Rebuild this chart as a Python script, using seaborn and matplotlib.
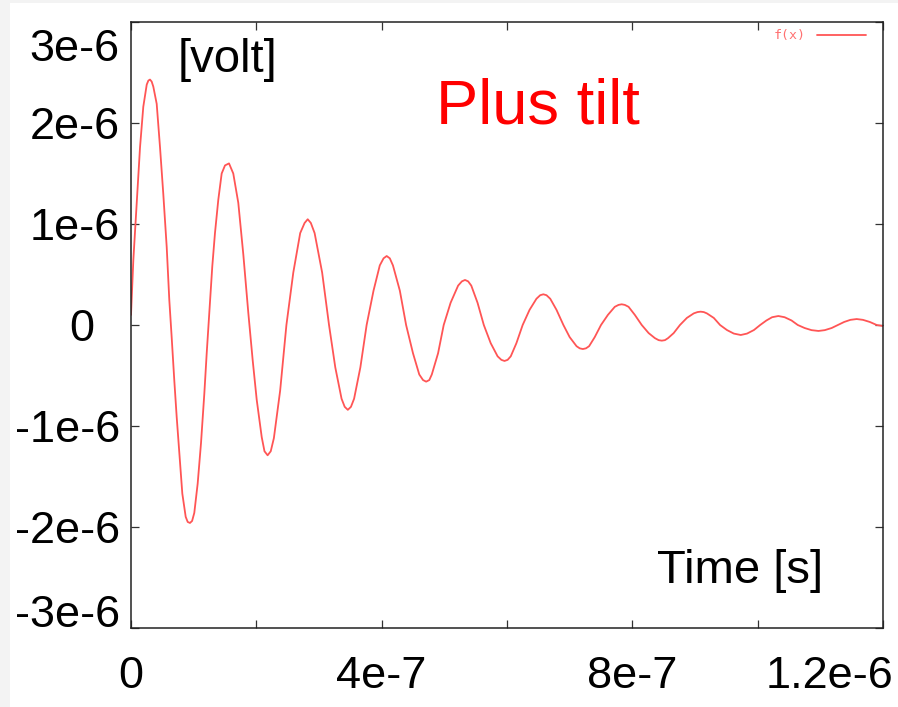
import numpy as np
import pandas as pd
import matplotlib.pyplot as plt
import seaborn as sns
from matplotlib.transforms import ScaledTranslation

# time in ns, signal in microvolt
t_ns = [0, 3.7, 9.1, 14.4, 19.6, 25.1, 27.7, 30.3, 33.0, 35.6, 41.0, 46.3, 51.5, 57.0, 61.1,
        64.9, 69.1, 72.9, 77.1, 81.9, 87.3, 90.5, 94.1, 97.5, 101.0, 106.4, 111.7, 117.0,
        120.8, 124.9, 129.7, 134.0, 139.3, 144.7, 150.0, 156.4, 163.2, 171.2, 179.2, 187.2,
        194.2, 200.6, 208.6, 213, 218, 223, 228, 238, 248, 259, 270, 277, 282, 287, 293,
        305, 316, 326, 336, 341, 346, 351, 356, 366, 376, 387, 397, 403, 408, 413, 418, 429,
        439, 450, 460, 466, 471, 476, 480, 490, 499, 510, 522, 528, 533, 538, 543, 553, 563,
        574, 585, 591, 596, 601, 606, 615, 625, 636, 647, 653, 658, 663, 669, 679, 690, 700,
        711, 716, 721, 726, 731, 740, 750, 761, 772, 778, 783, 788, 794, 804, 815, 826, 836,
        842, 847, 852, 857, 866, 876, 887, 898, 904, 909, 914, 919, 930, 940, 951, 962, 973,
        983, 994, 1004, 1014, 1023, 1033, 1043, 1054, 1064, 1075, 1086, 1097, 1107, 1118,
        1128, 1138, 1148, 1158, 1168, 1179, 1190, 1200]
v_uv = [0.10, 0.64, 1.21, 1.76, 2.16, 2.38, 2.42, 2.43, 2.41, 2.36, 2.19, 1.76, 1.30, 0.77, 0.25,
        -0.12, -0.55, -0.91, -1.27, -1.67, -1.90, -1.95, -1.96, -1.94, -1.86, -1.57, -1.17,
        -0.68, -0.28, 0.12, 0.58, 0.91, 1.24, 1.50, 1.58, 1.60, 1.50, 1.21, 0.70, 0.12,
        -0.35, -0.74, -1.11, -1.25, -1.29, -1.25, -1.12, -0.65, 0.0, 0.52, 0.91, 1.01, 1.047,
        1.01, 0.91, 0.52, 0.0, -0.42, -0.73, -0.81, -0.84, -0.81, -0.73, -0.42, 0.0, 0.34,
        0.59, 0.66, 0.683, 0.66, 0.59, 0.34, 0.0, -0.28, -0.49, -0.545, -0.561, -0.545, -0.49,
        -0.28, 0.0, 0.22, 0.39, 0.432, 0.446, 0.432, 0.39, 0.22, 0.0, -0.18, -0.31, -0.345,
        -0.356, -0.345, -0.31, -0.18, 0.0, 0.15, 0.26, 0.295, 0.304, 0.295, 0.26, 0.15, 0.0,
        -0.12, -0.21, -0.231, -0.238, -0.231, -0.21, -0.12, 0.0, 0.10, 0.18, 0.199, 0.205,
        0.199, 0.18, 0.10, 0.0, -0.08, -0.13, -0.15, -0.155, -0.15, -0.13, -0.08, 0.0, 0.07,
        0.115, 0.128, 0.132, 0.128, 0.115, 0.07, 0.0, -0.05, -0.085, -0.099, -0.085, -0.05,
        0.0, 0.045, 0.077, 0.089, 0.077, 0.045, 0.0, -0.03, -0.051, -0.059, -0.051, -0.03,
        0.0, 0.03, 0.051, 0.059, 0.051, 0.03, 0.0, -0.01]

x_ticks = [0, 2e-7, 4e-7, 6e-7, 8e-7, 1.0e-6, 1.2e-6]
x_labels = ["0", "", "4e-7", "", "8e-7", "", "1.2e-6"]
y_ticks = [-3e-6, -2e-6, -1e-6, 0, 1e-6, 2e-6, 3e-6]
y_labels = ["-3e-6", "-2e-6", "-1e-6", "0  ", "1e-6", "2e-6", "3e-6"]

df = pd.DataFrame({"t": np.array(t_ns) * 1e-9, "v": np.array(v_uv) * 1e-6})

sns.set_style("ticks")
plt.rcParams["font.family"] = ["Liberation Sans", "DejaVu Sans"]
plt.rcParams["text.color"] = "black"

fig = plt.figure(figsize=(8.98, 7.07), dpi=100, facecolor="#f3f3f3")
# white panel (screenshot background)
fig.patches.append(plt.Rectangle((10 / 898, 0), 1, 1 - 3 / 707, transform=fig.transFigure,
                                 facecolor="white", edgecolor="none", zorder=-1))
ax = fig.add_axes([131 / 898, 1 - 628 / 707, 752 / 898, 606 / 707])

sns.lineplot(data=df, x="t", y="v", ax=ax, color="#ff5555", lw=1.3, label="f(x)")

ax.set_xlim(0, 1.2e-6)
ax.set_ylim(-3e-6, 3e-6)
ax.set_xticks(x_ticks)
ax.set_xticklabels(x_labels)
ax.set_yticks(y_ticks)
ax.set_yticklabels(y_labels)
ax.set_xlabel("")
ax.set_ylabel("")
ax.tick_params(direction="in", length=5.5, width=0.9, color="#333333",
               top=True, right=True, labelsize=32.5, labelcolor="black")
ax.tick_params(axis="x", pad=20)
ax.tick_params(axis="y", pad=8)
for s in ax.spines.values():
    s.set_linewidth(1.1)
    s.set_color("#222222")

# end labels sit shifted to stay inside the picture
lab = ax.get_xticklabels()[-1]
lab.set_ha("right")
lab.set_transform(lab.get_transform() + ScaledTranslation(0.10, 0, fig.dpi_scale_trans))
ylabs = ax.get_yticklabels()
ylabs[-1].set_transform(ylabs[-1].get_transform() + ScaledTranslation(0, -0.23, fig.dpi_scale_trans))
ylabs[0].set_transform(ylabs[0].get_transform() + ScaledTranslation(0, 0.17, fig.dpi_scale_trans))

fig.text(178 / 898, 1 - 72 / 707, "[volt]", fontsize=34, va="baseline", ha="left", color="black")
fig.text(657 / 898, 1 - 583 / 707, "Time [s]", fontsize=34, va="baseline", ha="left", color="black")
fig.text(436 / 898, 1 - 123 / 707, "Plus tilt", fontsize=45.5, color="red",
         va="baseline", ha="left")

leg = ax.legend(loc="center right", bbox_to_anchor=(866 / 898, 1 - 36 / 707),
                bbox_transform=fig.transFigure, frameon=False, markerfirst=False,
                handlelength=3.7, handletextpad=0.85, borderpad=0, borderaxespad=0,
                prop={"family": "DejaVu Sans Mono", "size": 9.5})
for txt in leg.get_texts():
    txt.set_color("#ff7070")

plt.savefig("out.png", dpi=100, facecolor=fig.get_facecolor())
